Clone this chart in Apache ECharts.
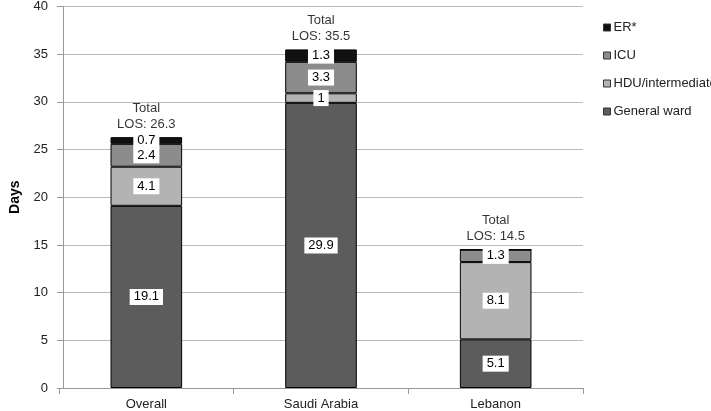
<!DOCTYPE html>
<html>
<head>
<meta charset="utf-8">
<script src="https://cdn.jsdelivr.net/npm/echarts@6/dist/echarts.min.js"></script>
<style>html,body{margin:0;padding:0;background:#fff;}#c{width:711px;height:411px;}</style>
</head>
<body>
<div id="c"></div>
<script>
const categories = ['Overall', 'Saudi Arabia', 'Lebanon'];
const generalWard = [19.1, 29.9, 5.1];
const hdu = [4.1, 1, 8.1];
const icu = [2.4, 3.3, 1.3];
const er = [0.7, 1.3, 0];
const totals = [26.3, 35.5, 14.5];
const yTicks = { min: 0, max: 40, interval: 5 };

const FONT = 'Liberation Sans, Arial, sans-serif';
const valueLabel = {
  show: true,
  position: 'inside',
  color: '#000',
  fontFamily: FONT,
  fontSize: 13,
  backgroundColor: '#fff',
  padding: [2, 4, 1, 4],
  formatter: p => (p.value ? String(p.value) : '')
};
function barSeries(name, data, color) {
  return {
    name, type: 'bar', stack: 'los', data,
    barWidth: '41%',
    itemStyle: { color, borderColor: '#000', borderWidth: 1 },
    label: valueLabel,
    emphasis: { disabled: true }
  };
}
const chart = echarts.init(document.getElementById('c'), null, { renderer: 'canvas' });
chart.setOption({
  animation: false,
  grid: { left: 55, right: 128, top: 5, bottom: 22, containLabel: false },
  legend: {
    orient: 'vertical',
    left: 598, top: 16,
    data: ['ER*', 'ICU', 'HDU/intermediate', 'General ward'],
    icon: 'rect', itemWidth: 7, itemHeight: 7, itemGap: 15,
    textStyle: { fontFamily: FONT, fontSize: 13, color: '#222', padding: [0, 0, 0, -2] },
    itemStyle: { borderColor: '#333', borderWidth: 1 }
  },
  xAxis: {
    type: 'category', data: categories,
    axisLine: { lineStyle: { color: '#999' } },
    axisTick: { show: true, length: 6, lineStyle: { color: '#999' } },
    axisLabel: { fontFamily: FONT, fontSize: 13, color: '#222', margin: 10 }
  },
  yAxis: {
    type: 'value', min: yTicks.min, max: yTicks.max, interval: yTicks.interval,
    offset: -4,
    name: 'Days', nameLocation: 'middle', nameGap: 41, nameRotate: 90,
    nameTextStyle: { fontFamily: FONT, fontSize: 14, fontWeight: 'bold', color: '#000' },
    axisLine: { show: true, lineStyle: { color: '#999' } },
    axisTick: { show: true, length: 6, lineStyle: { color: '#999' } },
    axisLabel: { fontFamily: FONT, fontSize: 13, color: '#222', margin: 15 },
    splitLine: { lineStyle: { color: '#bbb' } }
  },
  series: [
    barSeries('General ward', generalWard, '#5c5c5c'),
    barSeries('HDU/intermediate', hdu, '#b3b3b3'),
    barSeries('ICU', icu, '#8c8c8c'),
    barSeries('ER*', er, '#111111'),
    {
      name: 'Total', type: 'scatter', data: totals, symbolSize: 0,
      silent: true,
      label: {
        show: true, position: 'top', distance: 5,
        fontFamily: FONT, fontSize: 13, color: '#000', lineHeight: 16, align: 'center',
        formatter: p => 'Total\nLOS: ' + p.value
      }
    }
  ]
});
</script>
</body>
</html>
